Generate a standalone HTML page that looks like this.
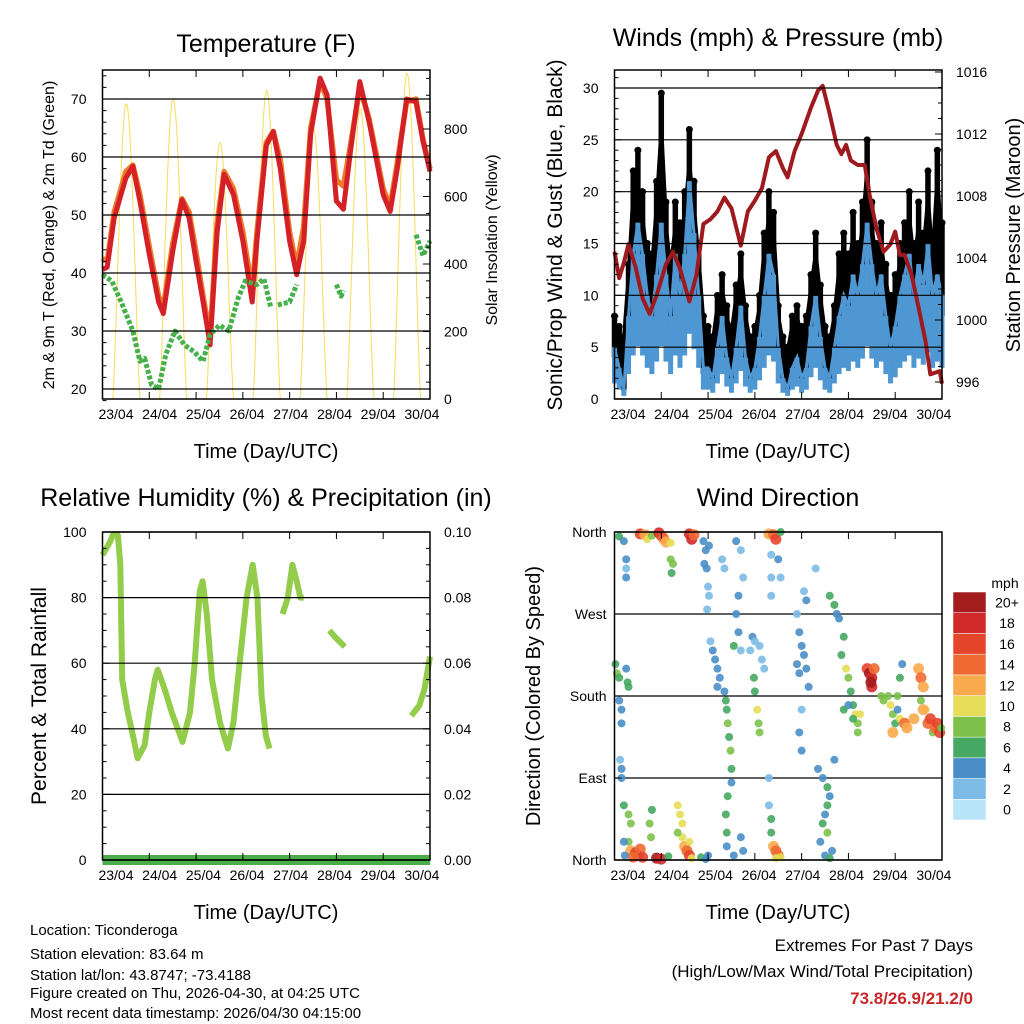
<!DOCTYPE html>
<html><head><meta charset="utf-8">
<style>
body{margin:0;background:#fff;}
svg{display:block;font-family:"Liberation Sans",sans-serif;}
</style></head>
<body>
<svg id="chart" width="1024" height="1024" viewBox="0 0 1024 1024" xmlns="http://www.w3.org/2000/svg">
<rect width="1024" height="1024" fill="#fff"/>
<g id="layer"></g>
<g fill="#000" text-anchor="middle">
<text x="266" y="52" font-size="25">Temperature (F)</text>
<text x="778" y="46" font-size="25">Winds (mph) &amp; Pressure (mb)</text>
<text x="266" y="506" font-size="25">Relative Humidity (%) &amp; Precipitation (in)</text>
<text x="778" y="506" font-size="25">Wind Direction</text>
<text x="266" y="458" font-size="20">Time (Day/UTC)</text>
<text x="778" y="458" font-size="20">Time (Day/UTC)</text>
<text x="266" y="919" font-size="20">Time (Day/UTC)</text>
<text x="778" y="919" font-size="20">Time (Day/UTC)</text>
<text transform="translate(54,235) rotate(-90)" font-size="16">2m &amp; 9m T (Red, Orange) &amp; 2m Td (Green)</text>
<text transform="translate(497,240) rotate(-90)" font-size="16">Solar Insolation (Yellow)</text>
<text transform="translate(562,235) rotate(-90)" font-size="21">Sonic/Prop Wind &amp; Gust (Blue, Black)</text>
<text transform="translate(1020,235) rotate(-90)" font-size="20">Station Pressure (Maroon)</text>
<text transform="translate(46,696) rotate(-90)" font-size="21">Percent &amp; Total Rainfall</text>
<text transform="translate(540,696) rotate(-90)" font-size="20">Direction (Colored By Speed)</text>
</g>
<g font-size="15" fill="#000">
<text x="30" y="935">Location: Ticonderoga</text>
<text x="30" y="959">Station elevation: 83.64 m</text>
<text x="30" y="980">Station lat/lon: 43.8747; -73.4188</text>
<text x="30" y="998">Figure created on Thu, 2026-04-30, at 04:25 UTC</text>
<text x="30" y="1018">Most recent data timestamp: 2026/04/30 04:15:00</text>
</g>
<g text-anchor="end">
<text x="973" y="951" font-size="17">Extremes For Past 7 Days</text>
<text x="973" y="977" font-size="17">(High/Low/Max Wind/Total Precipitation)</text>
<text x="973" y="1004" font-size="17" font-weight="bold" fill="#c8282a">73.8/26.9/21.2/0</text>
</g>
</svg>
<script>
const dayLabels=["23/04","24/04","25/04","26/04","27/04","28/04","29/04","30/04"];
// Temperature (F)
const tDays=[0,0.1,0.25,0.5,0.65,0.8,1.0,1.2,1.3,1.5,1.7,1.85,2.0,2.15,2.3,2.45,2.6,2.8,3.0,3.2,3.3,3.5,3.65,3.8,4.0,4.15,4.3,4.45,4.65,4.8,5.0,5.15,5.3,5.5,5.7,6.0,6.15,6.3,6.5,6.7,6.85,7.0];
const tRed=[40.6,41,49.5,56.4,58.4,52.4,43.2,35,33,43.7,52.6,49.5,42,35,27.6,47,57,53.5,45.5,35,45.5,62,64.4,58,45.5,39.7,45.5,64,73.6,70.7,52.4,51,61,73,66,53.5,50.6,58,70,69.5,62.7,57.5];
const tOrange=[42.5,42,50.5,57.5,58.6,53.5,44.5,36,34,45,52.8,50.5,43.5,36,29,48.5,57.5,54.5,47,37,47,62.5,64.4,59.5,47,41,48,65,73,70,56,55,62,72,66.5,54.5,51.5,59,69.5,70,63,58];
const tdDays=[0,0.2,0.4,0.65,0.8,0.9,1.05,1.2,1.35,1.55,1.75,1.95,2.15,2.3,2.5,2.7,2.9,3.05,3.3,3.45,3.6,null,3.75,4.0,4.15,null,5.0,5.1,5.15,null,6.7,6.85,7.0];
const tdVals=[39.7,38.6,35,30,24.8,25.3,20.7,20,25.9,30,27.6,26.5,24.8,29.4,31,30,35.7,38.6,38,39,34,null,34.5,35,38,null,38,36,37,null,46.6,43,45.5];
const solarPeaks=[875,890,760,915,800,860,965];
// Winds & pressure
const pDays=[0,0.1,0.2,0.3,0.45,0.6,0.75,0.9,1.1,1.25,1.4,1.6,1.75,1.9,2.05,2.2,2.35,2.5,2.7,2.85,3.0,3.15,3.3,3.45,3.6,3.7,3.85,4.0,4.2,4.35,4.45,4.6,4.75,4.85,4.95,5.05,5.2,5.35,5.45,5.6,5.75,5.9,6.0,6.1,6.2,6.35,6.5,6.65,6.75,6.95,7.0];
const pVals=[1004.4,1002.7,1003.7,1004.9,1003.4,1001.4,1000.4,1001.6,1003.6,1004.4,1003.3,1001.2,1002.9,1006.2,1006.5,1007,1007.9,1007.2,1004.8,1007,1007.7,1008.5,1010.5,1010.9,1009.8,1009.2,1010.9,1012,1013.7,1014.8,1015.1,1013.3,1011.3,1010.7,1011.3,1010.3,1010,1010,1008.1,1005.9,1004.4,1004.9,1005.7,1004.2,1004.2,1002.9,1000.8,998.6,996.5,996.7,995.9];
const windVals=[5,3,1,8,14,17,14,10,8,12,17,12,8,14,10,14,21,16,10,3,3,2,5,8,4,2,5,9,4,2,3,6,10,14,12,5,2,1,3,4,2,3,7,10,6,3,2,5,8,10,9,12,10,13,17,13,10,12,8,5,7,10,12,14,10,13,11,15,10,12,10];
const gustVals=[8,7,6,13,22,24,20,15,14,21,29.5,19,14,19,17,20,26,21,15,8,7,6,10,12,9,7,11,14,9,6,7,10,16,20,18,9,6,5,8,9,7,8,12,16,11,7,6,9,14,16,14,18,15,19,25,19,15,17,13,10,12,15,17,20,15,19,16,22,15,24,17];
// Relative humidity
const rhDays=[0,0.16,0.22,0.33,0.38,0.42,0.54,0.65,0.75,0.9,1.0,1.12,1.18,1.33,1.48,1.61,1.71,1.87,1.97,2.08,2.14,2.23,2.34,2.51,2.68,2.8,2.93,3.08,3.21,3.31,3.4,3.49,3.57,null,3.85,3.96,4.06,4.15,4.23,4.3,null,4.85,4.97,5.18,null,6.6,6.77,6.88,7.0];
const rhVals=[93,97,99,99,90,55,45,38,31,35,45,55,58,52,45,40,36,45,60,82,85,75,55,42,34,42,60,80,90,80,50,38,34,null,75,80,90,85,80,80,null,70,68,65,null,44,47,52,62];
// Wind direction points: day, direction (deg), speed (mph)
const wdDay=[0.02,0.05,0.1,0.25,0.28,0.3,0.1,0.15,0.15,0.12,0.15,0.15,0.2,0.3,0.35,0.3,0.35,0.45,0.5,0.55,0.6,0.4,0.75,0.8,0.78,0.2,0.22,0.1,0.2,0.25,0.25,0.25,0.55,0.65,0.7,0.8,0.95,1.0,1.05,1.1,1.2,1.2,1.22,1.25,0.9,1.0,1.15,1.35,1.4,1.45,1.45,1.5,1.55,1.6,1.6,1.35,1.65,1.6,1.65,1.7,1.9,1.95,1.92,1.97,2.0,2.02,1.98,2.02,2.0,1.85,1.95,2.05,2.1,2.15,2.2,2.25,2.2,2.35,2.38,2.4,2.42,2.45,2.48,2.5,2.5,2.42,2.38,2.4,2.4,2.55,2.7,2.75,2.3,2.35,2.6,2.7,2.75,2.65,2.6,2.65,2.55,2.7,2.9,2.95,3.0,3.1,3.15,3.2,2.98,3.0,3.05,3.08,3.1,3.3,3.4,3.45,3.55,3.35,3.35,3.5,3.55,3.35,3.3,3.35,3.35,3.4,3.45,3.5,3.55,3.45,3.3,3.9,3.95,4.0,4.05,3.9,3.95,4.1,4.15,4.0,3.95,4.0,4.3,4.05,4.1,4.35,4.45,4.55,4.55,4.5,4.45,4.55,4.6,4.4,4.65,4.5,4.6,4.7,4.6,4.7,4.75,4.8,4.9,4.85,4.95,5.0,5.05,5.1,5.15,5.2,5.25,5.0,4.9,5.1,5.2,5.4,5.45,5.5,5.55,5.5,5.48,5.7,5.75,5.85,5.9,5.95,6.0,6.05,6.1,6.15,6.05,6.1,6.2,6.25,5.95,6.5,6.55,6.6,6.55,6.65,6.7,6.75,6.8,6.85,6.9,6.95,6.98,6.6,6.4];
const wdDir=[215,205,200,210,195,190,175,165,150,110,100,90,60,50,40,20,10,8,5,12,3,3,40,55,25,20,5,355,350,320,330,310,358,357,352,356,359,356,353,349,348,330,315,325,2,1,4,60,50,40,25,15,10,5,20,30,2,358,352,357,350,340,325,320,300,290,275,345,5,3,1,240,230,220,210,200,190,185,175,165,150,135,120,100,85,70,50,30,15,5,25,10,330,320,350,340,310,290,270,250,235,230,230,245,240,235,220,210,200,185,165,150,140,358,357,352,360,335,310,330,310,290,60,45,30,15,10,5,3,2,90,270,250,235,225,215,205,210,190,165,140,120,320,295,285,100,90,80,60,50,40,30,70,20,10,5,2,110,290,280,270,265,245,225,210,200,185,170,160,150,160,170,165,155,140,210,205,200,210,190,195,180,175,180,170,160,150,165,200,215,180,155,150,145,140,210,200,190,175,165,150,155,140,145,150,140,145,165,155];
const wdSpd=[6,7,6,4,5,6,4,4,3,2,3,3,6,7,8,7,12,15,17,14,16,14,7,6,8,3,4,5,4,2,3,3,15,12,9,7,18,16,13,11,9,7,6,8,19,17,6,9,10,10,9,11,13,16,9,7,10,18,17,14,4,4,4,3,2,2,2,4,3,5,4,2,4,4,4,3,3,4,6,6,7,6,7,6,4,5,6,6,3,3,4,4,2,2,4,2,2,4,4,4,6,2,2,3,2,2,2,2,6,6,9,8,7,12,14,16,6,2,1,4,2,1,2,6,5,12,13,14,10,9,2,2,4,3,3,4,3,4,4,2,3,4,2,2,4,3,4,6,6,4,6,7,4,3,4,3,5,4,6,6,4,4,5,6,9,8,6,6,9,8,10,4,6,6,7,16,19,17,14,18,20,8,7,7,9,8,6,4,5,4,7,10,13,12,11,12,14,12,8,9,14,16,8,13,16,15,8,11,12];
const speedColors=["#b9e5f8","#7cbbe6","#4a8ec8","#46a862","#7dc14b","#e6de58","#f9aa4c","#f06a33","#e5452b","#d22a2a","#a31c1e"];
const speedLabels=["0","2","4","6","8","10","12","14","16","18","20+"];

const NS="http://www.w3.org/2000/svg";
const layer=document.getElementById("layer");
function mk(tag,attrs,parent){const e=document.createElementNS(NS,tag);for(const k in attrs)e.setAttribute(k,attrs[k]);(parent||layer).appendChild(e);return e;}

const P={t:{x0:102.5,x1:430,y0:70,y1:399},w:{x0:614.5,x1:942,y0:70,y1:399},r:{x0:102.5,x1:430,y0:532,y1:860},d:{x0:614.5,x1:942,y0:532,y1:860}};
function xs(p,d){return p.x0+(p.x1-p.x0)*d/7;}
function lin(v,v0,v1,p0,p1){return p0+(v-v0)*(p1-p0)/(v1-v0);}
const tY=v=>lin(v,20,70,389,99);
const sY=v=>lin(v,0,800,399,129);
const wY=v=>lin(v,0,30,399,88);
const pY=v=>lin(v,996,1016,382,72);
const rY=v=>lin(v,0,100,860,532);
const dY=v=>lin(v,0,360,860,532);

function polyPaths(days,vals,p,yf){let segs=[],cur=[];for(let i=0;i<days.length;i++){if(days[i]===null||vals[i]===null){if(cur.length)segs.push(cur);cur=[];continue;}cur.push(xs(p,days[i]).toFixed(1)+","+yf(vals[i]).toFixed(1));}if(cur.length)segs.push(cur);return segs;}

function frame(p,name,grid,leftTicks,rightTicks,minorL,minorR){
  const g=mk("g",{});
  
  
  grid.forEach(y=>{const l=mk("line",{x1:p.x0,x2:p.x1,y1:y,y2:y,stroke:"#000","stroke-width":1.2},g);
    
    });
  for(let d=0;d<=7;d++){const x=xs(p,d);
    mk("line",{x1:x,x2:x,y1:p.y1,y2:p.y1-7,stroke:"#000"},g);
    mk("line",{x1:x,x2:x,y1:p.y0,y2:p.y0+7,stroke:"#000"},g);
    const t=mk("text",{x:p.x0+13.5+43.7*d,y:p.y1+20,"font-size":14,"text-anchor":"middle"},g);
    t.textContent=dayLabels[d];
    
    }
  leftTicks.forEach(([y,s])=>{mk("line",{x1:p.x0,x2:p.x0+7,y1:y,y2:y,stroke:"#000"},g);
    const t=mk("text",{x:p.x0-(s.length>3?8:16),y:y+5,"font-size":14,"text-anchor":"end"},g);t.textContent=s;
    
    });
  rightTicks.forEach(([y,s])=>{mk("line",{x1:p.x1,x2:p.x1-7,y1:y,y2:y,stroke:"#000"},g);
    const t=mk("text",{x:p.x1+14,y:y+5,"font-size":14},g);t.textContent=s;
    
    });
  (minorL||[]).forEach(y=>mk("line",{x1:p.x0,x2:p.x0+4,y1:y,y2:y,stroke:"#000"},g));
  (minorR||[]).forEach(y=>mk("line",{x1:p.x1,x2:p.x1-4,y1:y,y2:y,stroke:"#000"},g));
  const b=mk("rect",{x:p.x0,y:p.y0,width:p.x1-p.x0,height:p.y1-p.y0,fill:"none",stroke:"#000","stroke-width":1.5},g);
  
  
}

// ---- Temperature panel
(function(){const p=P.t;
 const g=mk("g",{});
 
 
 let pts=[];for(let i=0;i<=700;i++){const d=i/100;const day=Math.floor(Math.min(d,6.999));const f=d-day;let v=0;const dd=(f-0.51)/0.29;if(Math.abs(dd)<1)v=solarPeaks[day]*Math.pow(Math.cos(dd*Math.PI/2),1.3);pts.push(xs(p,d).toFixed(1)+","+sY(v).toFixed(1));}
 const s=mk("polyline",{points:pts.join(" "),fill:"none",stroke:"#f7dc5a","stroke-width":1},g);
 
 
 polyPaths(tDays,tOrange,p,tY).forEach(seg=>{const l=mk("polyline",{points:seg.join(" "),fill:"none",stroke:"#f07a2a","stroke-width":5.5,"stroke-linejoin":"round"},g);
   
   });
 polyPaths(tDays,tRed,p,tY).forEach(seg=>{const l=mk("polyline",{points:seg.join(" "),fill:"none",stroke:"#d42127","stroke-width":5,"stroke-linejoin":"round"},g);
   
   });
 polyPaths(tdDays,tdVals,p,tY).forEach(seg=>{const l=mk("polyline",{points:seg.join(" "),fill:"none",stroke:"#46b04a","stroke-width":5,"stroke-dasharray":"4 2","stroke-linejoin":"round"},g);
   
   });
 const grid=[20,30,40,50,60,70].map(tY);
 const minor=[];for(let v=18;v<=75;v+=2)if(v%10)minor.push(tY(v));
 const minorR=[];for(let v=0;v<=950;v+=50)if(v%200)minorR.push(sY(v));
 frame(p,'temperature',grid,[20,30,40,50,60,70].map(v=>[tY(v),String(v)]),[0,200,400,600,800].map(v=>[sY(v),String(v)]),minor,minorR);
})();

// ---- Winds panel
(function(){const p=P.w;
 const g=mk("g",{});
 
 
 const n=windVals.length;
 const gp=[];for(let i=0;i<n;i++)gp.push(xs(p,i*7/(n-1)).toFixed(1)+","+wY(gustVals[i]*0.85).toFixed(1));
 const gl0=mk("polyline",{points:gp.join(" "),fill:"none",stroke:"#000","stroke-width":5},g);
 
 
 for(let i=0;i<n;i++){const d=i*7/(n-1);const x=xs(p,d);
   const gl=mk("line",{x1:x,x2:x,y1:wY(windVals[i]*0.8),y2:wY(gustVals[i]),stroke:"#000","stroke-width":5.5},g);
   
   
   const c=mk("circle",{cx:x,cy:wY(gustVals[i]),r:3.5,fill:"#000"},g);
   
   }
 for(let i=0;i<n;i++){const d=i*7/(n-1);const x=xs(p,d);
   const bl=mk("line",{x1:x,x2:x,y1:wY(windVals[i]*0.3),y2:wY(windVals[i]),stroke:"#4f97d2","stroke-width":5},g);
   
   }
 const pts=[];for(let i=0;i<n;i++)pts.push(xs(p,i*7/(n-1)).toFixed(1)+","+wY(windVals[i]).toFixed(1));
 const wl=mk("polyline",{points:pts.join(" "),fill:"none",stroke:"#4f97d2","stroke-width":3},g);
 
 
 polyPaths(pDays,pVals,p,pY).forEach(seg=>{const l=mk("polyline",{points:seg.join(" "),fill:"none",stroke:"#9e1a1e","stroke-width":4,"stroke-linejoin":"round"},g);
   
   });
 const minor=[];for(let v=1;v<=31;v++)if(v%5)minor.push(wY(v));
 const minorR=[];for(let v=996;v<=1016;v++)if(v%4)minorR.push(pY(v));
 frame(p,'winds',[0,5,10,15,20,25,30].map(wY),[0,5,10,15,20,25,30].map(v=>[wY(v),String(v)]),[996,1000,1004,1008,1012,1016].map(v=>[pY(v),String(v)]),minor,minorR);
})();

// ---- RH panel
(function(){const p=P.r;
 const g=mk("g",{});
 
 
 polyPaths(rhDays,rhVals,p,rY).forEach(seg=>{const l=mk("polyline",{points:seg.join(" "),fill:"none",stroke:"#92cc4a","stroke-width":6,"stroke-linejoin":"round"},g);
   
   });
 const pr=mk("rect",{x:p.x0,y:855,width:p.x1-p.x0,height:10,fill:"#49ad4a"},g);
 
 
 const minor=[];for(let v=5;v<100;v+=5)if(v%20)minor.push(rY(v));
 frame(p,'humidity',[0,20,40,60,80,100].map(rY),[0,20,40,60,80,100].map(v=>[rY(v),String(v)]),[0,0.02,0.04,0.06,0.08,0.1].map(v=>[rY(v*1000),v.toFixed(2)]),minor,minor);
})();

// ---- Wind direction panel
(function(){const p=P.d;
 const g=mk("g",{});
 
 
 const grid=[0,90,180,270,360].map(dY);
 grid.forEach(y=>{const l=mk("line",{x1:p.x0,x2:p.x1,y1:y,y2:y,stroke:"#000","stroke-width":1.2},g);
   
   });
 for(let i=0;i<wdDay.length;i++){const ci=Math.min(10,Math.round(wdSpd[i]/2));
   const c=mk("circle",{cx:xs(p,wdDay[i]),cy:dY(wdDir[i]),r:ci>5?5.5:4,fill:speedColors[ci],opacity:0.9},g);
   
   }
 frame(p,'wind-direction',[],[[dY(0),"North"],[dY(90),"East"],[dY(180),"South"],[dY(270),"West"],[dY(360),"North"]],[[dY(0),""],[dY(90),""],[dY(180),""],[dY(270),""],[dY(360),""]]);
 const cb=mk("g",{});
 
 
 const t=mk("text",{x:1005,y:588,"font-size":14,"text-anchor":"middle"},cb);t.textContent="mph";
 
 
 const h=(820-592)/11;
 for(let i=0;i<11;i++){const y=592+h*(10-i);
   const r=mk("rect",{x:953,y:y,width:33,height:h,fill:speedColors[i],stroke:"#fff","stroke-width":0.5},cb);
   
   
   const l=mk("text",{x:1007,y:y+h/2+5,"font-size":14,"text-anchor":"middle"},cb);l.textContent=speedLabels[i];
   
   }
})();
</script>
</body></html>
